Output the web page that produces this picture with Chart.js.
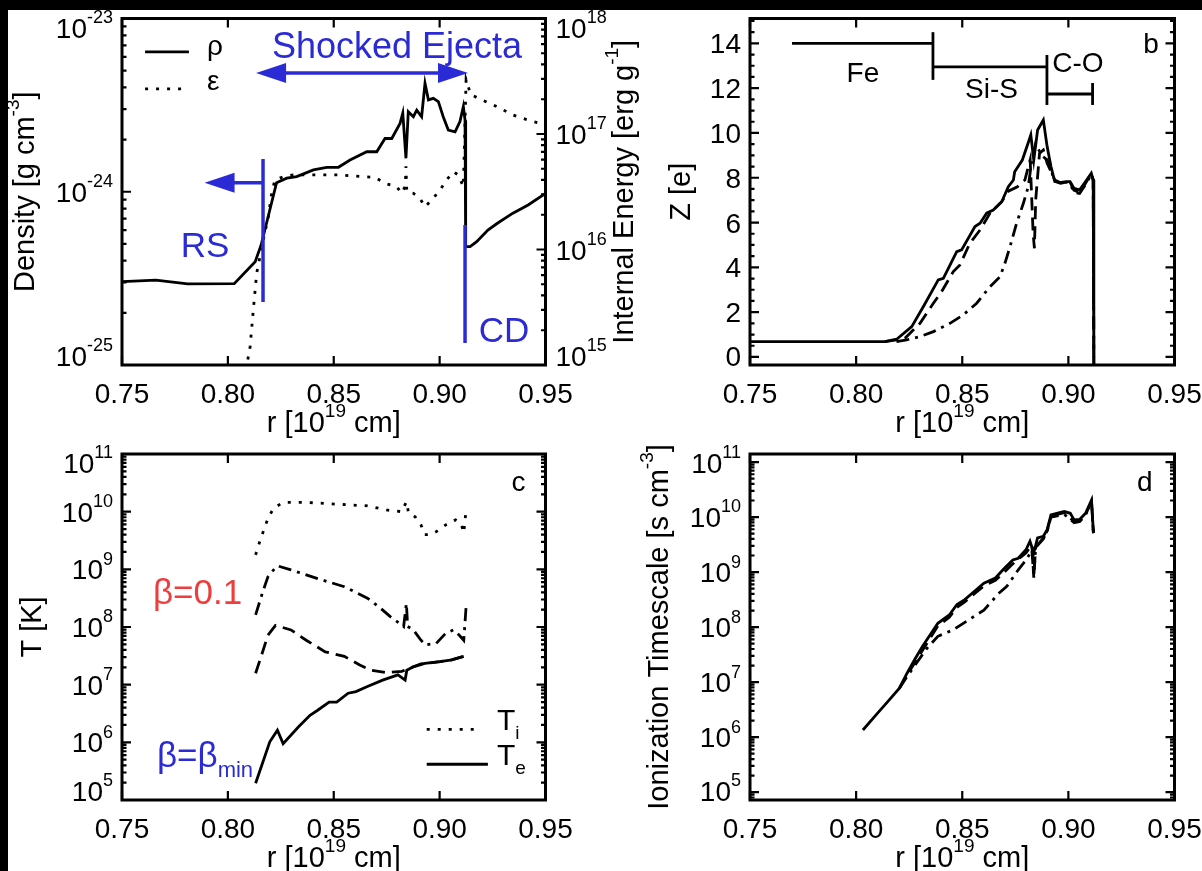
<!DOCTYPE html>
<html>
<head>
<meta charset="utf-8">
<script src="https://cdn.jsdelivr.net/npm/chart.js@4.4.1/dist/chart.umd.min.js"></script>
<style>
  html, body { margin: 0; padding: 0; background: #fff; }
  body { position: relative; width: 1202px; height: 871px; overflow: hidden; }
  canvas { position: absolute; left: 0; top: 0; }
  .bar { position: absolute; background: #000; }
</style>
</head>
<body>
<canvas id="pa" width="1202" height="871"></canvas>
<canvas id="pb" width="1202" height="871"></canvas>
<canvas id="pc" width="1202" height="871"></canvas>
<canvas id="pd" width="1202" height="871"></canvas>
<div class="bar" style="left:0;top:0;width:1202px;height:10px"></div>
<div class="bar" style="left:0;top:0;width:8px;height:871px"></div>
<script>
// tick values
const R_TICKS = [0.75, 0.80, 0.85, 0.90, 0.95];
const Z_TICKS = [0, 2, 4, 6, 8, 10, 12, 14];

// (a) density [g cm^-3] and internal energy [erg/g] vs r [1e19 cm]
const rhoR = [0.750, 0.766, 0.781, 0.803, 0.8129, 0.8157, 0.823, 0.8278, 0.8325, 0.8404, 0.8467, 0.8522, 0.8577,
  0.8656, 0.8703, 0.8742, 0.8774, 0.8813, 0.8826, 0.8841, 0.8852, 0.8876, 0.8892, 0.8915, 0.8931, 0.8947, 0.897,
  0.8994, 0.9017, 0.9041, 0.9073, 0.9096, 0.9112, 0.912, 0.9123, 0.9144, 0.9175, 0.9228, 0.9273, 0.9346, 0.9418, 0.95];
const rhoVal = [3.03e-25, 3.09e-25, 2.94e-25, 2.95e-25, 3.94e-25, 4.93e-25, 1.127e-24, 1.197e-24, 1.222e-24, 1.337e-24,
  1.384e-24, 1.384e-24, 1.524e-24, 1.702e-24, 1.702e-24, 2.03e-24, 2.03e-24, 2.48e-24, 2.84e-24, 1.56e-24, 2.90e-24,
  2.71e-24, 2.96e-24, 2.71e-24, 4.23e-24, 3.39e-24, 3.46e-24, 3.31e-24, 2.71e-24, 2.27e-24, 2.22e-24, 2.54e-24,
  3.10e-24, 2.59e-24, 4.82e-25, 4.82e-25, 5.15e-25, 6.01e-25, 6.58e-25, 7.52e-25, 8.39e-25, 9.79e-25];
const engR = [0.8085, 0.8105, 0.812, 0.8136, 0.8167, 0.8191, 0.8207, 0.8222, 0.8262, 0.8309, 0.8419, 0.853, 0.864,
  0.8695, 0.8742, 0.8797, 0.8821, 0.8838, 0.8841, 0.8845, 0.8876, 0.8907, 0.8931, 0.8963, 0.9002, 0.9033, 0.9065,
  0.9088, 0.9112, 0.9125, 0.9147, 0.9201, 0.9273, 0.9346, 0.9418, 0.95];
const engVal = [9.0e14, 1.44e15, 2.99e15, 6.22e15, 1.21e16, 1.92e16, 3.07e16, 4.0e16, 4.27e16, 4.42e16, 4.42e16, 4.42e16,
  4.27e16, 4.22e16, 3.74e16, 3.50e16, 3.07e16, 3.55e16, 5.25e16, 3.16e16, 3.07e16, 2.77e16, 2.34e16, 2.69e16, 3.27e16,
  4.0e16, 4.72e16, 4.42e16, 3.50e16, 2.95e17, 2.19e17, 1.97e17, 1.72e17, 1.46e17, 1.32e17, 1.20e17];

// (b) mean charge Z [e]
const zSolidR = [0.75, 0.8136, 0.8191, 0.8262, 0.8317, 0.8387, 0.8411, 0.8474, 0.8497, 0.856, 0.8584, 0.8615, 0.8646,
  0.8686, 0.8717, 0.8741, 0.8747, 0.8783, 0.881, 0.8823, 0.8837, 0.8855, 0.8882, 0.89, 0.8918, 0.8936, 0.8963, 0.899,
  0.9008, 0.9026, 0.9053, 0.9081, 0.9108, 0.9117, 0.912];
const zSolid = [0.68, 0.68, 0.79, 1.35, 2.25, 3.44, 3.51, 4.70, 4.78, 5.82, 5.97, 6.42, 6.56, 6.93, 7.60, 7.90, 8.27,
  8.79, 9.54, 9.91, 8.79, 10.13, 10.58, 9.39, 8.50, 7.83, 7.78, 7.83, 7.83, 7.53, 7.46, 7.83, 8.2, 7.9, -0.36];
const zDashR = [0.8136, 0.823, 0.8301, 0.8364, 0.8403, 0.8458, 0.8489, 0.8536, 0.8584, 0.8631, 0.8662, 0.8686, 0.8717,
  0.876, 0.8795, 0.882, 0.8834, 0.884, 0.8846, 0.8864, 0.8882, 0.89, 0.8936, 0.8963, 0.899, 0.9008, 0.9026, 0.9053,
  0.9081, 0.9108, 0.9117, 0.912];
const zDash = [0.68, 0.83, 1.5, 2.4, 2.92, 3.81, 4.11, 5.08, 5.67, 6.42, 6.71, 6.93, 7.4, 7.6, 7.9, 8.8, 5.5, 4.85, 7.0,
  9.09, 9.24, 8.65, 7.9, 7.78, 7.83, 7.8, 7.45, 7.35, 7.75, 8.2, 7.9, -0.36];
const zDotR = [0.819, 0.8238, 0.8301, 0.8364, 0.8442, 0.8505, 0.8568, 0.8631, 0.8678, 0.8701, 0.8725, 0.8756, 0.8788,
  0.8811, 0.8828, 0.8846, 0.8873, 0.89, 0.8936, 0.8963, 0.899, 0.9008, 0.9026, 0.9053, 0.9081, 0.9108, 0.9117, 0.912];
const zDot = [0.68, 0.76, 0.91, 1.13, 1.5, 1.88, 2.4, 3.14, 3.58, 4.18, 4.92, 5.97, 6.86, 7.6, 8.79, 9.54, 9.0, 8.8,
  7.85, 7.75, 7.8, 7.75, 7.35, 7.3, 7.7, 8.15, 7.9, -0.36];

// (c) temperatures [K]
const tiR = [0.8131, 0.8153, 0.8189, 0.8216, 0.8261, 0.837, 0.8514, 0.8659, 0.8749, 0.8821, 0.8843, 0.8854, 0.8885,
  0.8912, 0.893, 0.8957, 0.8984, 0.9029, 0.9075, 0.9101, 0.9114, 0.9125];
const tiVal = [1.78e9, 3.24e9, 7.59e9, 1.15e10, 1.45e10, 1.45e10, 1.35e10, 1.26e10, 1.07e10, 1.0e10, 1.48e10, 9.3e9,
  8.1e9, 5.9e9, 4.0e9, 4.0e9, 4.5e9, 5.9e9, 7.2e9, 6.3e9, 4.3e9, 1.07e10];
const teHiR = [0.8131, 0.8162, 0.8189, 0.8216, 0.8234, 0.8298, 0.8424, 0.855, 0.8659, 0.8713, 0.8767, 0.8812, 0.883,
  0.8843, 0.8849, 0.8876, 0.8912, 0.893, 0.8984, 0.9029, 0.9066, 0.9093, 0.9114, 0.9125];
const teHiVal = [1.62e8, 3.8e8, 7.4e8, 9.8e8, 1.15e9, 9.8e8, 6.9e8, 5.0e8, 3.16e8, 2.24e8, 1.51e8, 1.15e8, 1.02e8,
  2.57e8, 1.02e8, 8.9e7, 5.9e7, 4.9e7, 5.2e7, 7.8e7, 8.9e7, 7.2e7, 5.9e7, 2.24e8];
const teMidR = [0.8131, 0.8162, 0.8189, 0.8225, 0.8298, 0.837, 0.846, 0.855, 0.8623, 0.8677, 0.8749, 0.8821, 0.8876,
  0.8912, 0.9002, 0.9057, 0.9114];
const teMidVal = [1.58e7, 3.5e7, 7.2e7, 1.07e8, 8.9e7, 5.9e7, 3.7e7, 3.1e7, 2.19e7, 1.78e7, 1.62e7, 1.7e7, 2.04e7,
  2.3e7, 2.5e7, 2.7e7, 3.1e7];
const teLoR = [0.8131, 0.8198, 0.8234, 0.8261, 0.8334, 0.8388, 0.8424, 0.8478, 0.8514, 0.8568, 0.8605, 0.8659, 0.8731,
  0.8803, 0.8837, 0.8845, 0.8876, 0.893, 0.9002, 0.9057, 0.9114];
const teLoVal = [1.95e5, 1.02e6, 1.62e6, 9.5e5, 1.86e6, 2.95e6, 3.6e6, 5.0e6, 5.0e6, 7.1e6, 7.6e6, 9.3e6, 1.2e7, 1.48e7,
  1.2e7, 1.78e7, 2.04e7, 2.34e7, 2.51e7, 2.69e7, 3.09e7];

// (d) ionization timescale [s cm^-3]
const tauR = [0.8032, 0.8095, 0.815, 0.8204, 0.824, 0.8276, 0.8313, 0.8349, 0.8385, 0.8439, 0.8475, 0.8512, 0.8548,
  0.8602, 0.8656, 0.8692, 0.8738, 0.8764, 0.8801, 0.8819, 0.8837, 0.8855, 0.8882, 0.89, 0.8918, 0.8945, 0.8981,
  0.9009, 0.9027, 0.9054, 0.9081, 0.9109, 0.9118];
const tauVal = [1.35e6, 2.57e6, 4.47e6, 7.76e6, 1.45e7, 2.57e7, 4.47e7, 7.24e7, 1.17e8, 1.66e8, 2.57e8, 3.16e8, 4.17e8,
  6.3e8, 7.8e8, 1.1e9, 1.66e9, 1.78e9, 2.57e9, 3.63e9, 2.24e9, 4.17e9, 4.47e9, 5.9e9, 1.1e10, 1.17e10, 1.26e10,
  1.17e10, 8.9e9, 9.1e9, 1.17e10, 2.04e10, 5.1e9];
const tauDashR = [0.8204, 0.824, 0.8276, 0.8313, 0.8349, 0.8385, 0.8439, 0.8475, 0.8512, 0.8548, 0.8602, 0.8656,
  0.8692, 0.8738, 0.8801, 0.8828, 0.8837, 0.8846, 0.8882, 0.89, 0.8918, 0.8981, 0.9027, 0.9054, 0.9081, 0.9109, 0.9118];
const tauDash = [7.76e6, 1.35e7, 2.24e7, 3.8e7, 6.3e7, 1.05e8, 1.51e8, 2.29e8, 2.88e8, 3.8e8, 5.6e8, 7.1e8, 9.5e8,
  1.41e9, 2.24e9, 3.16e9, 7.9e8, 2.8e9, 4.17e9, 5.6e9, 1.05e10, 1.2e10, 8.3e9, 8.5e9, 1.12e10, 1.9e10, 5.1e9];
const tauDotR = [0.8204, 0.824, 0.8276, 0.8331, 0.8385, 0.8457, 0.853, 0.8602, 0.8674, 0.871, 0.8764, 0.8801, 0.8828,
  0.8837, 0.8846, 0.8882, 0.89, 0.8918, 0.8981, 0.9027, 0.9054, 0.9081, 0.9109, 0.9118];
const tauDot = [7.76e6, 1.26e7, 2.0e7, 4.0e7, 6.8e7, 8.9e7, 1.35e8, 2.04e8, 4.17e8, 5.5e8, 1.1e9, 1.66e9, 2.5e9, 8.3e8,
  2.8e9, 4.0e9, 5.5e9, 1.0e10, 1.12e10, 7.9e9, 8.3e9, 1.1e10, 1.9e10, 5.1e9];

const FONT = '"Liberation Sans", Arial, Helvetica, sans-serif';
const BLUE = '#2b2bd6';
const RED = '#ef3d3d';
const DOT = [3, 8];
const DASH = [13, 7];
const DASHDOT = [13, 6, 3, 6];

const xy = (xs, ys) => xs.map((x, i) => ({ x: x, y: ys[i] }));

// text made of pieces: [text, 0 normal | 1 superscript | -1 subscript]
function rich(ctx, segs, x, y, size, align) {
  const small = Math.round(size * 0.64);
  let w = 0;
  const parts = segs.map(([t, k]) => {
    ctx.font = (k ? small : size) + 'px ' + FONT;
    const m = ctx.measureText(t).width;
    w += m;
    return [t, k, m];
  });
  let cx = align === 'right' ? x - w : align === 'center' ? x - w / 2 : x;
  ctx.textAlign = 'left';
  ctx.textBaseline = 'alphabetic';
  for (const [t, k, m] of parts) {
    ctx.font = (k ? small : size) + 'px ' + FONT;
    const dy = k === 1 ? -size * 0.52 : k === -1 ? size * 0.3 : 0;
    ctx.fillText(t, cx, y + dy);
    cx += m;
  }
}

function vtitle(ctx, segs, bx, cy, size) {
  ctx.save();
  ctx.translate(bx, cy);
  ctx.rotate(-Math.PI / 2);
  rich(ctx, segs, 0, 0, size, 'center');
  ctx.restore();
}

function yTicks(chart, s, side, withLabels) {
  const ctx = chart.ctx, a = chart.chartArea, sc = chart.scales[s.id];
  const x0 = side === 'left' ? a.left : a.right, dir = side === 'left' ? 1 : -1;
  const marks = [];
  if (s.log) {
    const lo = Math.floor(Math.log10(sc.min)), hi = Math.ceil(Math.log10(sc.max));
    for (let d = lo; d <= hi; d++) {
      for (let k = 1; k <= 9; k++) {
        const v = k * Math.pow(10, d);
        if (v >= sc.min * 0.999 && v <= sc.max * 1.001) marks.push([v, k === 1, [['10', 0], [String(d), 1]]]);
      }
    }
  } else {
    for (let i = Math.ceil(sc.min * 2); i <= Math.floor(sc.max * 2); i++) {
      const v = i / 2;
      marks.push([v, Z_TICKS.includes(v), [[String(v), 0]]]);
    }
  }
  ctx.lineWidth = 2.2;
  ctx.beginPath();
  for (const [v, major] of marks) {
    const p = sc.getPixelForValue(v);
    ctx.moveTo(x0, p);
    ctx.lineTo(x0 + dir * (major ? 9 : 4.5), p);
  }
  ctx.stroke();
  if (!withLabels) return;
  for (const [v, major, lab] of marks) {
    if (!major) continue;
    const p = Math.min(Math.max(sc.getPixelForValue(v), a.top + 9), a.bottom - 9);
    if (side === 'left') rich(ctx, lab, x0 - 9, p + 10, 28, 'right');
    else rich(ctx, lab, x0 + 10, p + 10, 28, 'left');
  }
}

function axes(chart, o) {
  const ctx = chart.ctx, a = chart.chartArea, sx = chart.scales.x;
  ctx.save();
  ctx.fillStyle = '#000';
  ctx.strokeStyle = '#000';
  ctx.lineWidth = 2.2;
  ctx.beginPath();
  R_TICKS.forEach(v => {
    const p = sx.getPixelForValue(v);
    ctx.moveTo(p, a.bottom); ctx.lineTo(p, a.bottom - 9);
    ctx.moveTo(p, a.top); ctx.lineTo(p, a.top + 9);
  });
  ctx.stroke();
  R_TICKS.forEach(v => rich(ctx, [[v.toFixed(2), 0]], sx.getPixelForValue(v), a.bottom + 38, 28, 'center'));
  rich(ctx, [['r [10', 0], ['19', 1], [' cm]', 0]], (a.left + a.right) / 2, a.bottom + 67, 29, 'center');
  yTicks(chart, o.left, 'left', true);
  if (o.right) yTicks(chart, o.right, 'right', true);
  else yTicks(chart, o.left, 'right', false);
  const cy = (a.top + a.bottom) / 2;
  vtitle(ctx, o.ltitle, o.lx, cy, 29);
  if (o.rtitle) vtitle(ctx, o.rtitle, o.rx, cy, 29);
  ctx.lineWidth = 3;
  ctx.strokeRect(a.left, a.top, a.right - a.left, a.bottom - a.top);
  ctx.restore();
}

function arrowHead(ctx, tx, ty, dir) {
  ctx.beginPath();
  ctx.moveTo(tx, ty);
  ctx.lineTo(tx - dir * 30, ty - 10);
  ctx.lineTo(tx - dir * 30, ty + 10);
  ctx.closePath();
  ctx.fill();
}

function seg(ctx, x1, y1, x2, y2) {
  ctx.beginPath(); ctx.moveTo(x1, y1); ctx.lineTo(x2, y2); ctx.stroke();
}

function makeChart(id, pad, scales, datasets, draw) {
  return new Chart(document.getElementById(id), {
    type: 'line',
    data: {
      datasets: datasets.map(d => Object.assign({
        borderColor: '#000', borderWidth: 2.8, pointRadius: 0, tension: 0, fill: false, borderCapStyle: 'butt'
      }, d))
    },
    options: {
      responsive: false, animation: false, events: [],
      layout: { padding: pad },
      scales: scales,
      plugins: { legend: { display: false }, tooltip: { enabled: false } }
    },
    plugins: [{ id: 'deco', afterDraw: draw }]
  });
}

const xScale = { type: 'linear', min: 0.75, max: 0.95, display: false };

// (a)
makeChart('pa', { left: 122, top: 18.5, right: 656.5, bottom: 506 }, {
  x: xScale,
  y: { type: 'logarithmic', min: 1e-25, max: 1e-23, display: false },
  y2: { type: 'logarithmic', min: 1e15, max: 1e18, display: false, position: 'right' }
}, [
  { data: xy(rhoR, rhoVal), yAxisID: 'y' },
  { data: xy(engR, engVal), yAxisID: 'y2', borderDash: DOT }
], chart => {
  axes(chart, {
    left: { id: 'y', log: true }, right: { id: 'y2', log: true },
    ltitle: [['Density [g cm', 0], ['-3', 1], [']', 0]], lx: 34,
    rtitle: [['Internal Energy [erg g', 0], ['-1', 1], [']', 0]], rx: 633
  });
  const ctx = chart.ctx, sx = chart.scales.x, sy = chart.scales.y;
  const X = v => sx.getPixelForValue(v), Y = v => sy.getPixelForValue(v);
  ctx.save();
  // legend
  ctx.strokeStyle = '#000'; ctx.fillStyle = '#000'; ctx.lineWidth = 2.8;
  seg(ctx, X(0.7609), Y(6.41e-24), X(0.7816), Y(6.41e-24));
  ctx.setLineDash(DOT);
  seg(ctx, X(0.7609), Y(3.92e-24), X(0.7816), Y(3.92e-24));
  ctx.setLineDash([]);
  rich(ctx, [['ρ', 0]], X(0.7901), Y(6.15e-24), 28, 'left');
  rich(ctx, [['ε', 0]], X(0.7901), Y(3.86e-24), 28, 'left');
  // annotations
  ctx.strokeStyle = BLUE; ctx.fillStyle = BLUE; ctx.lineWidth = 3.5;
  rich(ctx, [['Shocked Ejecta', 0]], X(0.8799), Y(5.89e-24), 36, 'center');
  const yA = Y(4.84e-24);
  seg(ctx, X(0.8133) + 25, yA, X(0.9134) - 25, yA);
  arrowHead(ctx, X(0.8133), yA, -1);
  arrowHead(ctx, X(0.9134), yA, 1);
  const yB = Y(1.127e-24);
  seg(ctx, X(0.789) + 25, yB, X(0.8166), yB);
  arrowHead(ctx, X(0.789), yB, -1);
  seg(ctx, X(0.8166), Y(1.545e-24), X(0.8166), Y(2.31e-25));
  seg(ctx, X(0.912), Y(6.43e-25), X(0.912), Y(1.34e-25));
  rich(ctx, [['RS', 0]], X(0.7892), Y(4.22e-25), 35, 'center');
  rich(ctx, [['CD', 0]], X(0.9304), Y(1.36e-25), 35, 'center');
  ctx.restore();
});

// (b)
makeChart('pb', { left: 750, top: 18.5, right: 27.5, bottom: 506 }, {
  x: xScale,
  y: { type: 'linear', min: -0.36, max: 15.11, display: false }
}, [
  { data: xy(zSolidR, zSolid) },
  { data: xy(zDashR, zDash), borderDash: DASH },
  { data: xy(zDotR, zDot), borderDash: DASHDOT }
], chart => {
  axes(chart, { left: { id: 'y', log: false }, ltitle: [['Z [e]', 0]], lx: 690 });
  const ctx = chart.ctx, sx = chart.scales.x, sy = chart.scales.y;
  const X = v => sx.getPixelForValue(v), Y = v => sy.getPixelForValue(v);
  ctx.save();
  ctx.strokeStyle = '#000'; ctx.fillStyle = '#000'; ctx.lineWidth = 2.8;
  seg(ctx, X(0.7698), Y(14), X(0.8362), Y(14));
  seg(ctx, X(0.8362), Y(12.37), X(0.8362), Y(14.5));
  seg(ctx, X(0.8362), Y(12.95), X(0.8899), Y(12.95));
  seg(ctx, X(0.8899), Y(11.25), X(0.8899), Y(13.48));
  seg(ctx, X(0.8899), Y(11.74), X(0.9114), Y(11.74));
  seg(ctx, X(0.9114), Y(11.25), X(0.9114), Y(12.23));
  rich(ctx, [['Fe', 0]], X(0.8032), Y(12.29), 28, 'center');
  rich(ctx, [['Si-S', 0]], X(0.8638), Y(11.55), 28, 'center');
  rich(ctx, [['C-O', 0]], X(0.9045), Y(12.74), 28, 'center');
  rich(ctx, [['b', 0]], X(0.9389), Y(13.56), 28, 'center');
  ctx.restore();
});

// (c)
makeChart('pc', { left: 122, top: 454, right: 656.5, bottom: 71 }, {
  x: xScale,
  y: { type: 'logarithmic', min: 1e5, max: 1e11, display: false }
}, [
  { data: xy(tiR, tiVal), borderDash: DOT },
  { data: xy(teHiR, teHiVal), borderDash: DASHDOT },
  { data: xy(teMidR, teMidVal), borderDash: DASH },
  { data: xy(teLoR, teLoVal) }
], chart => {
  axes(chart, { left: { id: 'y', log: true }, ltitle: [['T [K]', 0]], lx: 41 });
  const ctx = chart.ctx, sx = chart.scales.x, sy = chart.scales.y;
  const X = v => sx.getPixelForValue(v), Y = v => sy.getPixelForValue(v);
  ctx.save();
  ctx.strokeStyle = '#000'; ctx.fillStyle = '#000'; ctx.lineWidth = 2.8;
  rich(ctx, [['c', 0]], X(0.9373), Y(2.29e10), 28, 'center');
  ctx.setLineDash(DOT);
  seg(ctx, X(0.8939), Y(1.68e6), X(0.9192), Y(1.68e6));
  ctx.setLineDash([]);
  seg(ctx, X(0.8939), Y(4.17e5), X(0.9228), Y(4.17e5));
  rich(ctx, [['T', 0], ['i', -1]], X(0.9271), Y(1.64e6), 30, 'left');
  rich(ctx, [['T', 0], ['e', -1]], X(0.9271), Y(4.05e5), 30, 'left');
  ctx.fillStyle = RED;
  rich(ctx, [['β=0.1', 0]], X(0.7646), Y(2.51e8), 35, 'left');
  ctx.fillStyle = BLUE;
  rich(ctx, [['β=β', 0], ['min', -1]], X(0.7665), Y(3.74e5), 35, 'left');
  ctx.restore();
});

// (d)
makeChart('pd', { left: 750, top: 454, right: 27.5, bottom: 71 }, {
  x: xScale,
  y: { type: 'logarithmic', min: 7.2e4, max: 1.4e11, display: false }
}, [
  { data: xy(tauR, tauVal) },
  { data: xy(tauDashR, tauDash), borderDash: DASH },
  { data: xy(tauDotR, tauDot), borderDash: DASHDOT }
], chart => {
  axes(chart, {
    left: { id: 'y', log: true },
    ltitle: [['Ionization Timescale [s cm', 0], ['-3', 1], [']', 0]], lx: 668
  });
  const ctx = chart.ctx, sx = chart.scales.x, sy = chart.scales.y;
  ctx.save();
  ctx.fillStyle = '#000';
  rich(ctx, [['d', 0]], sx.getPixelForValue(0.936), sy.getPixelForValue(3.0e10), 28, 'center');
  ctx.restore();
});
</script>
</body>
</html>
